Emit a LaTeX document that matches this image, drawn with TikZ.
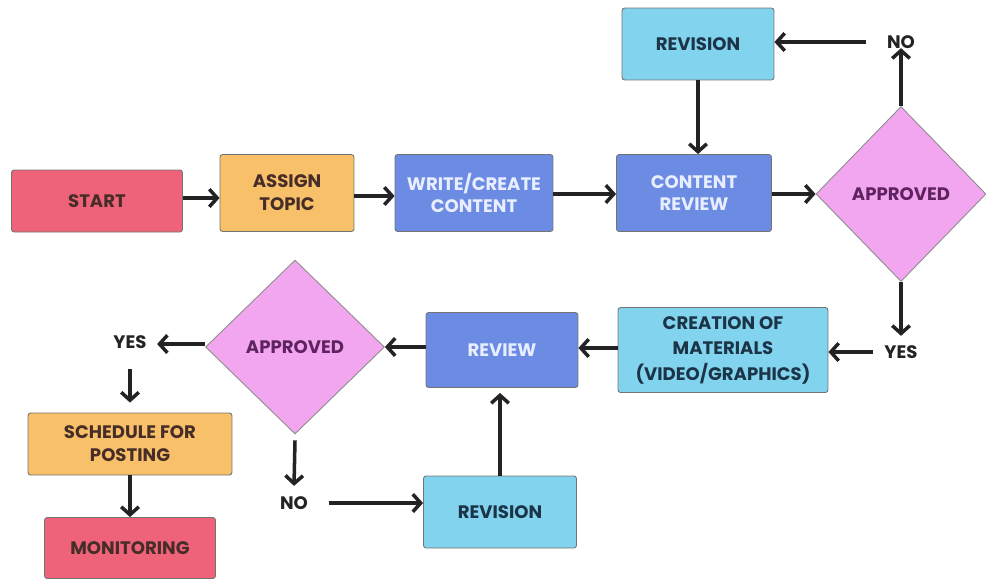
\documentclass[tikz,border=0pt]{standalone}
\usepackage{fontspec}
\setmainfont{Poppins}
\usetikzlibrary{arrows.meta,shapes.geometric}
\definecolor{cpink}{RGB}{238,98,122}
\definecolor{corange}{RGB}{249,192,106}
\definecolor{cblue}{RGB}{108,140,228}
\definecolor{ccyan}{RGB}{130,212,238}
\definecolor{cdia}{RGB}{242,166,240}
\definecolor{tdark}{RGB}{70,45,40}
\definecolor{tnavy}{RGB}{28,52,72}
\definecolor{tlight}{RGB}{232,238,255}
\definecolor{tpurple}{RGB}{95,35,95}
\definecolor{arrowc}{RGB}{35,35,38}
\tikzset{
  x=0.02cm, y=-0.02cm,
  base/.style={draw=black!55, line width=0.5pt, rounded corners=1.5pt, align=center,
    font=\fontsize{10.3}{13}\selectfont\bfseries, inner sep=0pt},
  pinkbox/.style={base, fill=cpink, text=tdark},
  orangebox/.style={base, fill=corange, text=tdark},
  bluebox/.style={base, fill=cblue, text=tlight},
  cyanbox/.style={base, fill=ccyan, text=tnavy},
  decision/.style={diamond, draw=black!45, line width=0.5pt, fill=cdia, text=tpurple,
    inner sep=0pt, minimum width=3.4cm, minimum height=3.5cm,
    font=\fontsize{10.3}{13}\selectfont\bfseries},
  lbl/.style={font=\fontsize{10.3}{13}\selectfont\bfseries, text=arrowc, inner sep=3pt},
  arr/.style={draw=arrowc, line width=2pt, -{Straight Barb[length=4.5pt,width=10pt,line width=2pt]}},
}
\begin{document}
\begin{tikzpicture}
\useasboundingbox (0,0) rectangle (986,579);
% row 1
\node[pinkbox, minimum width=3.42cm, minimum height=1.24cm] (start) at (97,201) {START};
\node[orangebox, minimum width=2.68cm, minimum height=1.54cm] (assign) at (287,193) {ASSIGN\\TOPIC};
\node[bluebox, minimum width=3.16cm, minimum height=1.54cm] (write) at (474,193) {WRITE/CREATE\\CONTENT};
\node[bluebox, minimum width=3.1cm, minimum height=1.54cm] (crev) at (694,193) {CONTENT\\REVIEW};
\node[cyanbox, minimum width=3.04cm, minimum height=1.44cm] (rev1) at (698,44) {REVISION};
\node[decision] (dia1) at (901,194) {APPROVED};
\node[lbl] (no1) at (901,42) {NO};
\node[lbl] (yes1) at (901,352) {YES};
% row 2
\node[cyanbox, minimum width=4.2cm, minimum height=1.7cm, font=\fontsize{10.3}{14.5}\selectfont\bfseries] (create) at (723,350) {CREATION OF\\MATERIALS\\(VIDEO/GRAPHICS)};
\node[bluebox, minimum width=3.04cm, minimum height=1.5cm] (review) at (502,350) {REVIEW};
\node[decision, minimum width=3.58cm, minimum height=3.48cm] (dia2) at (295,347) {APPROVED};
\node[lbl] (yes2) at (130,342) {YES};
\node[orangebox, minimum width=4.08cm, minimum height=1.24cm] (sched) at (130,444) {SCHEDULE FOR\\POSTING};
\node[pinkbox, minimum width=3.42cm, minimum height=1.22cm] (mon) at (130,548) {MONITORING};
\node[lbl] (no2) at (294,503) {NO};
\node[cyanbox, minimum width=3.06cm, minimum height=1.44cm] (rev2) at (500,512) {REVISION};
% connectors row 1
\draw[arr] (start.east |- 0,198) -- (assign.west |- 0,198);
\draw[arr] (assign.east |- 0,196) -- (write.west |- 0,196);
\draw[arr] (write.east |- 0,194) -- (crev.west |- 0,194);
\draw[arr] (crev.east |- 0,194) -- (dia1.west);
\draw[arr] (dia1.north) -- ([yshift=0.12cm]no1.south);
\draw[arr] ([xshift=-0.3cm]no1.west) -- (rev1.east |- no1.west);
\draw[arr] (rev1.south) -- (crev.north -| rev1.south);
\draw[arr] (dia1.south) -- ([yshift=0.08cm]yes1.north);
% connectors row 2
\draw[arr] ([xshift=-0.12cm]yes1.west) -- (create.east |- yes1.west);
\draw[arr] (create.west |- 0,348) -- (review.east |- 0,348);
\draw[arr] (review.west |- dia2.east) -- (dia2.east);
\draw[arr] (dia2.west |- 0,344) -- ([xshift=0.1cm]yes2.east |- 0,344);
\draw[arr] ([yshift=-0.3cm]yes2.south) -- ([yshift=0.2cm]sched.north);
\draw[arr] (sched.south) -- (mon.north);
\draw[arr] ([yshift=-0.12cm]dia2.south) -- ([yshift=0.1cm]no2.north);
\draw[arr] ([xshift=0.3cm]no2.east) -- (rev2.west |- no2.east);
\draw[arr] (rev2.north) -- ([yshift=-0.1cm]review.south -| rev2.north);
\end{tikzpicture}
\end{document}
